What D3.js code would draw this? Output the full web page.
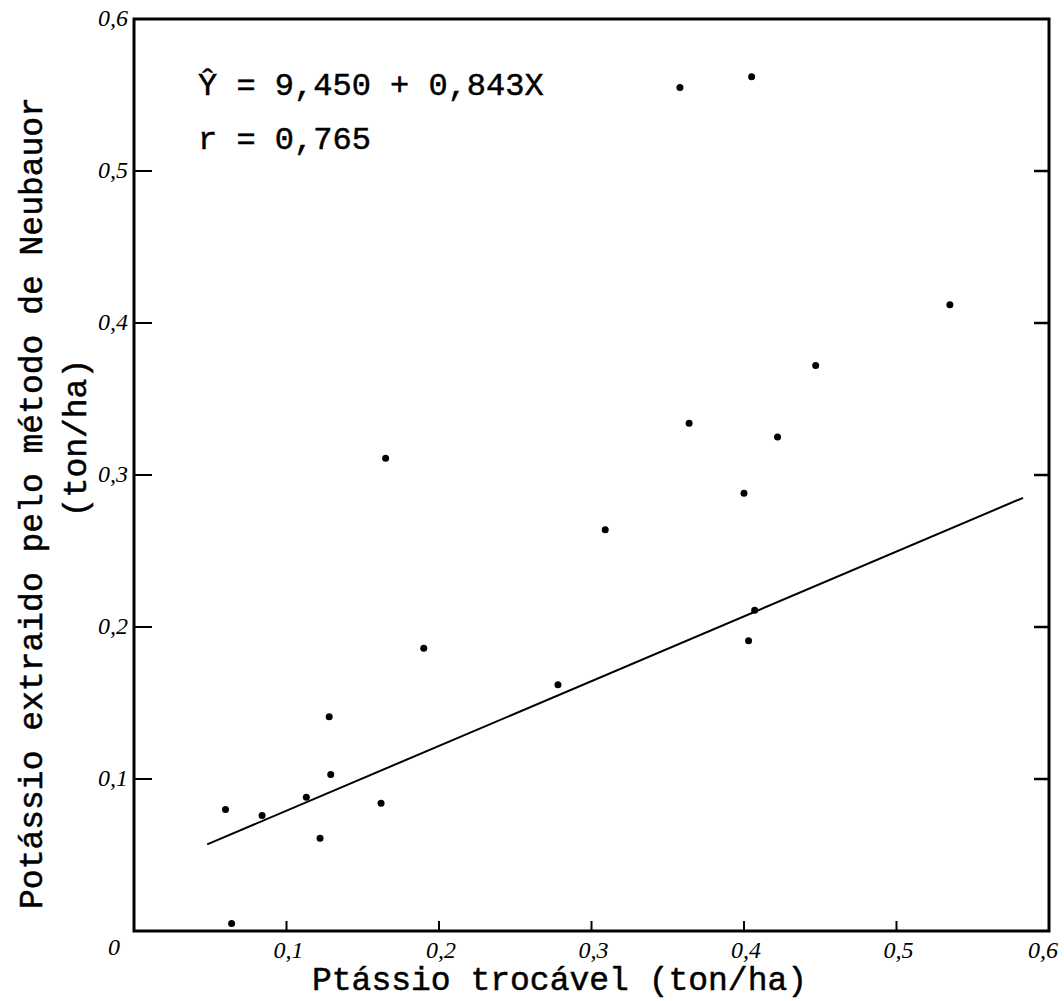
<!DOCTYPE html>
<html>
<head>
<meta charset="utf-8">
<script src="https://cdn.jsdelivr.net/npm/d3@7"></script>
<style>
  body { margin: 0; background: #fff; }
  .tick-label { font-family: "Liberation Serif", serif; font-style: italic; font-size: 24px; fill: #000; }
  .mono { font-family: "Liberation Mono", monospace; fill: #000; stroke: #000; stroke-width: 0.5px; }
</style>
</head>
<body>
<div id="chart"></div>
<script>
// data
const potExchange = [0.060, 0.084, 0.113, 0.129, 0.128, 0.122, 0.162, 0.190, 0.165, 0.278, 0.309,
  0.358, 0.405, 0.364, 0.400, 0.407, 0.403, 0.422, 0.447, 0.535, 0.064];
const potNeubauer = [0.080, 0.076, 0.088, 0.103, 0.141, 0.061, 0.084, 0.186, 0.311, 0.162, 0.264,
  0.555, 0.562, 0.334, 0.288, 0.211, 0.191, 0.325, 0.372, 0.412, 0.005];

const fitX = [0.048, 0.583];
const fitY = [0.057, 0.285];

const tickValues = [0.1, 0.2, 0.3, 0.4, 0.5, 0.6];
const xTickLabels = ["0,1", "0,2", "0,3", "0,4", "0,5", "0,6"];
const yTickLabels = ["0,1", "0,2", "0,3", "0,4", "0,5", "0,6"];

const equationLines = ["Ŷ = 9,450 + 0,843X", "r = 0,765"];

const margin = { top: 19, right: 15, bottom: 70, left: 134 };
const W = 1064, H = 1001;
const width = 1049 - margin.left;
const height = 931 - margin.top;

const svg = d3.select("#chart").append("svg")
  .attr("width", W)
  .attr("height", H);

const g = svg.append("g")
  .attr("transform", `translate(${margin.left},${margin.top})`);

const x = d3.scaleLinear().domain([0, 0.6]).range([0, width]);
const y = d3.scaleLinear().domain([0, 0.6]).range([height, 0]);

// frame
g.append("rect")
  .attr("x", 0).attr("y", 0)
  .attr("width", width).attr("height", height)
  .attr("fill", "none")
  .attr("stroke", "#000")
  .attr("stroke-width", 3);

// ticks, drawn inward
g.selectAll(".ytick-l").data(tickValues.slice(0, 5)).join("line")
  .attr("x1", 0).attr("x2", 18)
  .attr("y1", d => y(d)).attr("y2", d => y(d))
  .attr("stroke", "#000").attr("stroke-width", 2);

g.selectAll(".ytick-r").data(tickValues.slice(0, 5)).join("line")
  .attr("x1", width - 15).attr("x2", width)
  .attr("y1", d => y(d)).attr("y2", d => y(d))
  .attr("stroke", "#000").attr("stroke-width", 2.5);

g.selectAll(".xtick").data(tickValues.slice(0, 5)).join("line")
  .attr("x1", d => x(d)).attr("x2", d => x(d))
  .attr("y1", height).attr("y2", height - 10)
  .attr("stroke", "#000").attr("stroke-width", 2);

// tick labels
g.selectAll(".ylab").data(tickValues).join("text")
  .attr("class", "tick-label")
  .attr("x", -6)
  .attr("y", d => y(d) + 7)
  .attr("text-anchor", "end")
  .text((d, i) => yTickLabels[i]);

g.selectAll(".xlab").data(tickValues).join("text")
  .attr("class", "tick-label")
  .attr("x", (d, i) => i === tickValues.length - 1 ? x(d) - 6 : x(d) + 2)
  .attr("y", height + 27)
  .attr("text-anchor", "middle")
  .text((d, i) => xTickLabels[i]);

g.append("text")
  .attr("class", "tick-label")
  .attr("x", -20)
  .attr("y", height + 24)
  .attr("text-anchor", "middle")
  .text("0");

// regression line
g.append("line")
  .attr("x1", x(fitX[0])).attr("y1", y(fitY[0]))
  .attr("x2", x(fitX[1])).attr("y2", y(fitY[1]))
  .attr("stroke", "#000")
  .attr("stroke-width", 2);

// points
g.selectAll(".pt").data(potExchange).join("circle")
  .attr("cx", d => x(d))
  .attr("cy", (d, i) => y(potNeubauer[i]))
  .attr("r", 3.5)
  .attr("fill", "#000");

// equation
g.selectAll(".eq").data(equationLines).join("text")
  .attr("class", "mono")
  .attr("font-size", 32)
  .attr("x", 64)
  .attr("y", (d, i) => 76 + i * 54)
  .text(d => d);

// axis titles
svg.append("text")
  .attr("class", "mono")
  .attr("font-size", 33)
  .attr("x", 312)
  .attr("y", 990)
  .text("Ptássio trocável (ton/ha)");

svg.append("text")
  .attr("class", "mono")
  .attr("font-size", 33)
  .attr("transform", "translate(42,503) rotate(-90)")
  .attr("text-anchor", "middle")
  .text("Potássio extraido pelo método de Neubauor");

svg.append("text")
  .attr("class", "mono")
  .attr("font-size", 33)
  .attr("transform", "translate(86,438) rotate(-90)")
  .attr("text-anchor", "middle")
  .text("(ton/ha)");
</script>
</body>
</html>
